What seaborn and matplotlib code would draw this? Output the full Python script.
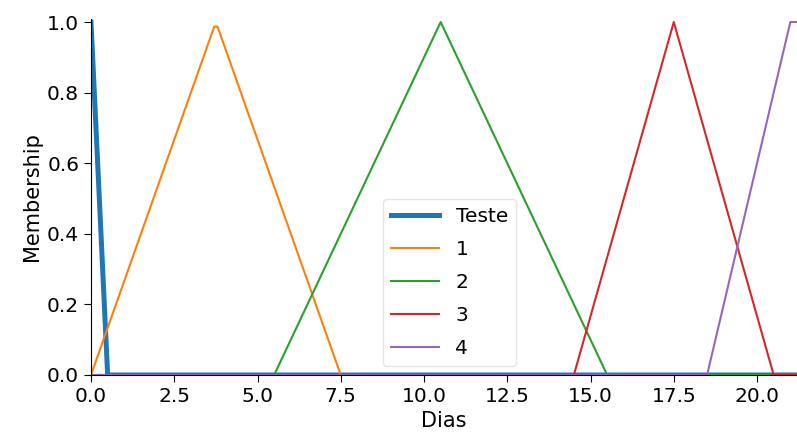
import matplotlib
matplotlib.use("Agg")
import matplotlib.pyplot as plt
import seaborn as sns
import pandas as pd

# breakpoints (x in days, y = membership)
teste_x = [0.0, 0.5, 21.2]
teste_y = [1.0, 0.0, 0.0]
m1_x = [0.0, 3.7, 3.8, 7.5, 21.2]
m1_y = [0.0, 0.987, 0.987, 0.0, 0.0]
m2_x = [0.0, 5.5, 10.5, 15.5, 21.2]
m2_y = [0.0, 0.0, 1.0, 0.0, 0.0]
m3_x = [0.0, 14.5, 17.5, 20.5, 21.2]
m3_y = [0.0, 0.0, 1.0, 0.0, 0.0]
m4_x = [0.0, 18.5, 21.0, 21.2]
m4_y = [0.0, 0.0, 1.0, 1.0]

labels = ["Teste", "1", "2", "3", "4"]
xs = [teste_x, m1_x, m2_x, m3_x, m4_x]
ys = [teste_y, m1_y, m2_y, m3_y, m4_y]


def main():
    plt.rcParams["font.size"] = 14.5
    plt.rcParams["font.family"] = ["DejaVu Sans"]

    fig = plt.figure(figsize=(7.97, 4.38), dpi=100)
    ax = fig.add_axes([91 / 797, 1 - 375 / 438, 706 / 797, 356.5 / 438])

    colors = sns.color_palette("tab10")
    for i, (lab, x, y) in enumerate(zip(labels, xs, ys)):
        df = pd.DataFrame({"Dias": x, "Membership": y})
        lw = 3.6 if i == 0 else 1.5
        sns.lineplot(data=df, x="Dias", y="Membership", ax=ax, label=lab,
                     color=colors[i], linewidth=lw, sort=False)

    ax.set_xlim(0, 21.2)
    ax.set_ylim(0, 1.01)
    ax.set_xticks([0, 2.5, 5, 7.5, 10, 12.5, 15, 17.5, 20])
    ax.set_yticks([0, 0.2, 0.4, 0.6, 0.8, 1.0])
    ax.tick_params(labelsize=14.5, length=5)
    ax.set_xlabel("Dias", fontsize=15)
    ax.set_ylabel("Membership", fontsize=15)
    sns.despine(ax=ax)

    ax.legend(loc="lower left", bbox_to_anchor=((383 - 91) / 706, 0.025),
              borderaxespad=0, fontsize=14.5, framealpha=0.5,
              handlelength=2.4, labelspacing=0.7)

    fig.savefig("out.png", dpi=100)


if __name__ == "__main__":
    main()
